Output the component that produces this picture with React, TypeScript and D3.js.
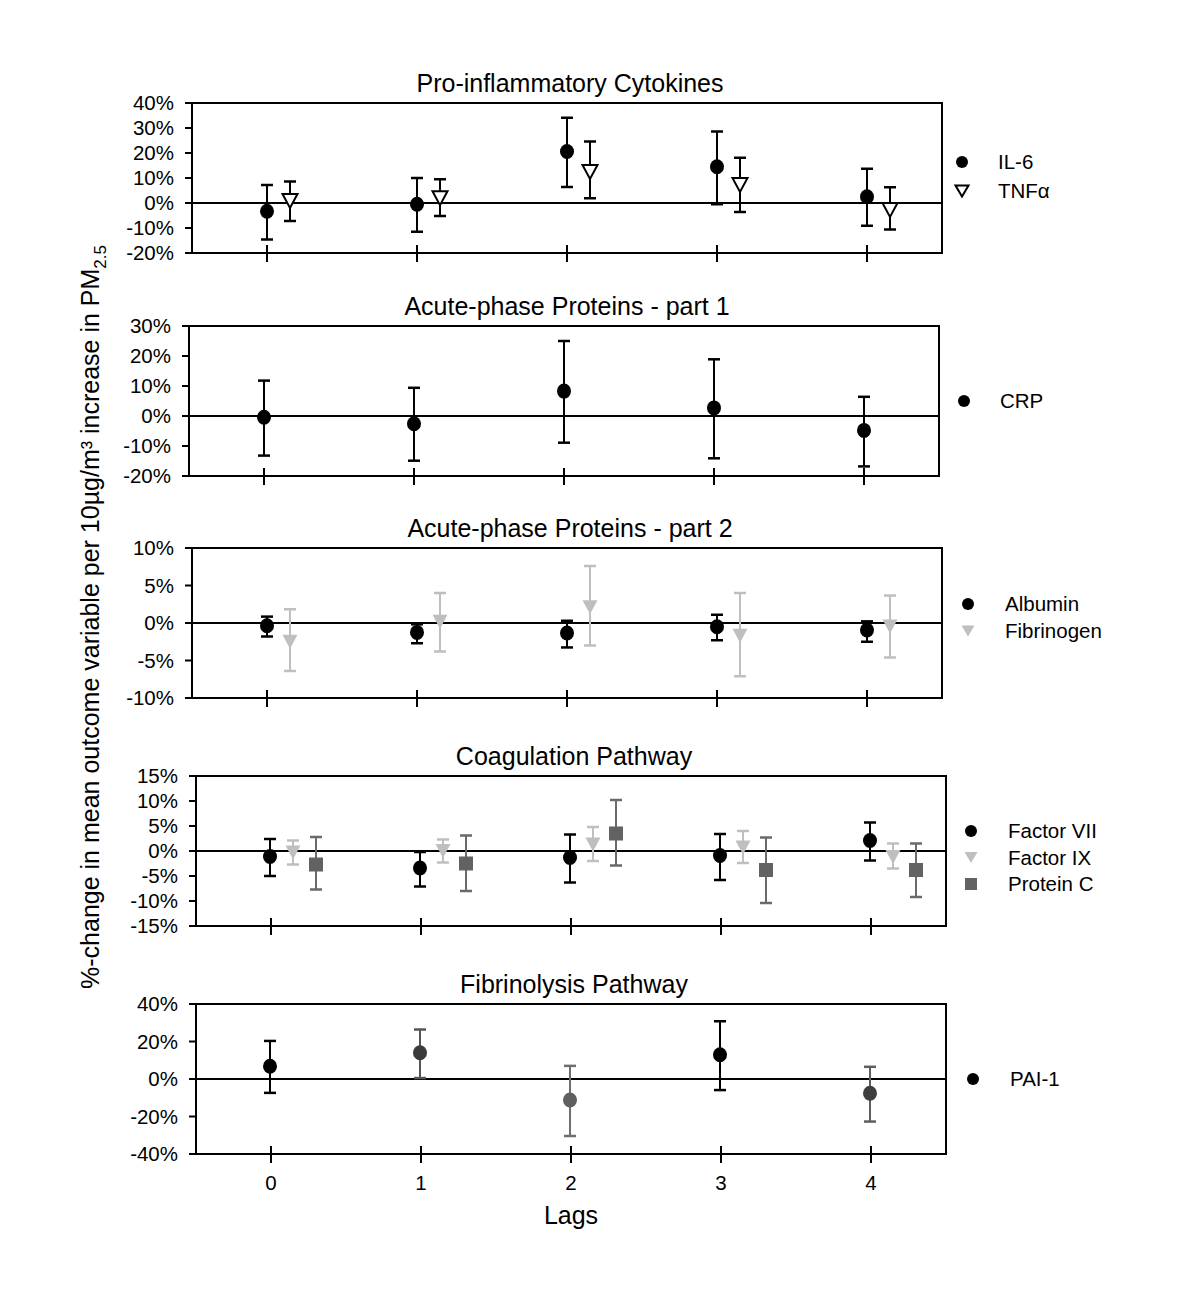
import React from "react";
import * as d3 from "d3";

// ---------- DATA ----------
const lags = [0, 1, 2, 3, 4];
const lagLabels = ["0", "1", "2", "3", "4"];

const panelTitles = [
  "Pro-inflammatory Cytokines",
  "Acute-phase Proteins - part 1",
  "Acute-phase Proteins - part 2",
  "Coagulation Pathway",
  "Fibrinolysis Pathway",
];

const yTicks1 = [-20, -10, 0, 10, 20, 30, 40];
const yTicks2 = [-20, -10, 0, 10, 20, 30];
const yTicks3 = [-10, -5, 0, 5, 10];
const yTicks4 = [-15, -10, -5, 0, 5, 10, 15];
const yTicks5 = [-40, -20, 0, 20, 40];

// Pro-inflammatory cytokines
const il6Est = [-3.3, -0.5, 20.6, 14.5, 2.5];
const il6Lo = [-14.6, -11.5, 6.4, -0.5, -9.1];
const il6Hi = [7.2, 10.0, 34.1, 28.6, 13.7];
const tnfEst = [0.8, 1.9, 12.4, 7.2, -2.8];
const tnfLo = [-7.2, -5.2, 1.9, -3.6, -10.6];
const tnfHi = [8.6, 9.5, 24.6, 18.1, 6.3];

// Acute-phase part 1
const crpEst = [-0.4, -2.6, 8.3, 2.7, -4.8];
const crpLo = [-13.2, -14.9, -8.9, -14.1, -16.8];
const crpHi = [11.8, 9.4, 25.0, 18.9, 6.4];

// Acute-phase part 2
const albEst = [-0.36, -1.25, -1.34, -0.5, -0.94];
const albLo = [-1.8, -2.7, -3.26, -2.3, -2.5];
const albHi = [0.85, -0.18, 0.3, 1.1, 0.22];
const fibEst = [-2.5, 0.18, 2.1, -1.7, -0.45];
const fibLo = [-6.4, -3.8, -3.0, -7.1, -4.6];
const fibHi = [1.83, 4.0, 7.6, 4.0, 3.66];

// Coagulation
const f7Est = [-1.1, -3.4, -1.3, -0.9, 2.1];
const f7Lo = [-5.0, -7.1, -6.3, -5.8, -1.9];
const f7Hi = [2.4, -0.2, 3.3, 3.4, 5.7];
const f9Est = [-0.3, 0.0, 1.3, 0.7, -1.2];
const f9Lo = [-2.7, -2.3, -2.0, -2.4, -3.5];
const f9Hi = [2.1, 2.3, 4.8, 4.0, 1.5];
const pcEst = [-2.7, -2.5, 3.5, -3.8, -3.8];
const pcLo = [-7.7, -8.0, -2.9, -10.4, -9.2];
const pcHi = [2.8, 3.1, 10.2, 2.7, 1.5];

// Fibrinolysis
const paiEst = [6.8, 14.0, -11.2, 12.9, -7.6];
const paiLo = [-7.4, 0.5, -30.4, -5.9, -22.7];
const paiHi = [20.3, 26.4, 7.0, 30.8, 6.5];

// ---------- STYLE ----------
const FONT = "'Liberation Sans', Arial, Helvetica, sans-serif";
const BLACK = "#000000";
const LIGHT = "#bfbfbf";
const DARK = "#626262";
const paiPointColors = ["#000000", "#3a3a3a", "#606060", "#000000", "#3f3f3f"];
const paiBarColors = ["#000000", "#555555", "#6e6e6e", "#000000", "#5e5e5e"];

type Shape = "circle" | "triOpen" | "triFill" | "square";
type Series = {
  name: string;
  est: number[];
  lo: number[];
  hi: number[];
  shape: Shape;
  offset: number;
  pointColors: string[];
  barColors: string[];
};
type Panel = {
  title: string;
  x0: number;
  top: number;
  domain: [number, number];
  ticks: number[];
  series: Series[];
  legendX: number;
  legendTextX: number;
  legendY: number;
  legendGap: number;
  showX?: boolean;
};

const same = (c: string) => lags.map(() => c);

const panels: Panel[] = [
  {
    title: panelTitles[0], x0: 192, top: 103, domain: [-20, 40], ticks: yTicks1,
    series: [
      { name: "IL-6", est: il6Est, lo: il6Lo, hi: il6Hi, shape: "circle", offset: 0, pointColors: same(BLACK), barColors: same(BLACK) },
      { name: "TNFα", est: tnfEst, lo: tnfLo, hi: tnfHi, shape: "triOpen", offset: 23, pointColors: same(BLACK), barColors: same(BLACK) },
    ],
    legendX: 962, legendTextX: 998, legendY: 162, legendGap: 29,
  },
  {
    title: panelTitles[1], x0: 189, top: 326, domain: [-20, 30], ticks: yTicks2,
    series: [
      { name: "CRP", est: crpEst, lo: crpLo, hi: crpHi, shape: "circle", offset: 0, pointColors: same(BLACK), barColors: same(BLACK) },
    ],
    legendX: 964, legendTextX: 1000, legendY: 401, legendGap: 27,
  },
  {
    title: panelTitles[2], x0: 192, top: 548, domain: [-10, 10], ticks: yTicks3,
    series: [
      { name: "Albumin", est: albEst, lo: albLo, hi: albHi, shape: "circle", offset: 0, pointColors: same(BLACK), barColors: same(BLACK) },
      { name: "Fibrinogen", est: fibEst, lo: fibLo, hi: fibHi, shape: "triFill", offset: 23, pointColors: same(LIGHT), barColors: same(LIGHT) },
    ],
    legendX: 968, legendTextX: 1005, legendY: 604, legendGap: 27,
  },
  {
    title: panelTitles[3], x0: 196, top: 776, domain: [-15, 15], ticks: yTicks4,
    series: [
      { name: "Factor VII", est: f7Est, lo: f7Lo, hi: f7Hi, shape: "circle", offset: -1, pointColors: same(BLACK), barColors: same(BLACK) },
      { name: "Factor IX", est: f9Est, lo: f9Lo, hi: f9Hi, shape: "triFill", offset: 22, pointColors: same(LIGHT), barColors: same(LIGHT) },
      { name: "Protein C", est: pcEst, lo: pcLo, hi: pcHi, shape: "square", offset: 45, pointColors: same(DARK), barColors: same("#6a6a6a") },
    ],
    legendX: 971, legendTextX: 1008, legendY: 831, legendGap: 26.5,
  },
  {
    title: panelTitles[4], x0: 196, top: 1004, domain: [-40, 40], ticks: yTicks5,
    series: [
      { name: "PAI-1", est: paiEst, lo: paiLo, hi: paiHi, shape: "circle", offset: -1, pointColors: paiPointColors, barColors: paiBarColors },
    ],
    legendX: 973, legendTextX: 1010, legendY: 1079, legendGap: 27,
    showX: true,
  },
];

const PW = 750;
const PH = 150;

function Marker({ shape, x, y, color, legend }: { shape: Shape; x: number; y: number; color: string; legend?: boolean }) {
  if (shape === "circle") {
    return <ellipse cx={x} cy={y} rx={legend ? 6 : 7} ry={legend ? 6 : 7.5} fill={color} />;
  }
  if (shape === "square") {
    const s = legend ? 12 : 14;
    return <rect x={x - s / 2} y={y - s / 2} width={s} height={s} fill={color} />;
  }
  const w = legend ? 6.5 : 7.5;
  const h = legend ? 11 : 14;
  const p = `M${x - w},${y - h / 2}L${x + w},${y - h / 2}L${x},${y + h / 2}Z`;
  if (shape === "triOpen") {
    return <path d={p} fill="#ffffff" stroke={BLACK} strokeWidth={2} strokeLinejoin="miter" />;
  }
  return <path d={p} fill={color} />;
}

function PanelView({ p }: { p: Panel }) {
  const x = d3.scaleLinear().domain([-0.5, 4.5]).range([p.x0, p.x0 + PW]);
  const y = d3.scaleLinear().domain(p.domain).range([p.top + PH, p.top]);
  const bottom = p.top + PH;
  const cap = 6;
  return (
    <g>
      <text x={p.x0 + PW / 2 + 3} y={p.top - 11} textAnchor="middle" fontFamily={FONT} fontSize={25} fill="#000">
        {p.title}
      </text>
      {p.ticks.map((t) => (
        <g key={t}>
          <line x1={p.x0 - 7} x2={p.x0} y1={y(t)} y2={y(t)} stroke="#000" strokeWidth={2} />
          <text x={p.x0 - 18} y={y(t)} dy="0.36em" textAnchor="end" fontFamily={FONT} fontSize={20.5} fill="#000">
            {`${t}%`}
          </text>
        </g>
      ))}
      <rect x={p.x0} y={p.top} width={PW} height={PH} fill="none" stroke="#000" strokeWidth={2} />
      <line x1={p.x0} x2={p.x0 + PW} y1={y(0)} y2={y(0)} stroke="#000" strokeWidth={2} />
      {lags.map((l) => (
        <line key={l} x1={x(l)} x2={x(l)} y1={bottom - 8} y2={bottom + 9} stroke="#000" strokeWidth={2} />
      ))}
      {p.showX &&
        lags.map((l, i) => (
          <text key={"xl" + l} x={x(l)} y={bottom + 36} textAnchor="middle" fontFamily={FONT} fontSize={20.5} fill="#000">
            {lagLabels[i]}
          </text>
        ))}
      {p.series.map((s) =>
        lags.map((l, i) => {
          const cx = x(l) + s.offset;
          const c = s.barColors[i];
          return (
            <g key={s.name + l}>
              <line x1={cx} x2={cx} y1={y(s.lo[i])} y2={y(s.hi[i])} stroke={c} strokeWidth={2} />
              <line x1={cx - cap} x2={cx + cap} y1={y(s.lo[i])} y2={y(s.lo[i])} stroke={c} strokeWidth={2.5} />
              <line x1={cx - cap} x2={cx + cap} y1={y(s.hi[i])} y2={y(s.hi[i])} stroke={c} strokeWidth={2.5} />
            </g>
          );
        })
      )}
      {p.series.map((s) =>
        lags.map((l, i) => (
          <Marker key={"m" + s.name + l} shape={s.shape} x={x(l) + s.offset} y={y(s.est[i])} color={s.pointColors[i]} />
        ))
      )}
      {p.series.map((s, k) => (
        <g key={"lg" + s.name}>
          <Marker shape={s.shape} x={p.legendX} y={p.legendY + k * p.legendGap} color={s.pointColors[0]} legend />
          <text x={p.legendTextX} y={p.legendY + k * p.legendGap} dy="0.36em" fontFamily={FONT} fontSize={20.5} fill="#000">
            {s.name}
          </text>
        </g>
      ))}
    </g>
  );
}

export default function App() {
  return (
    <svg
      width={1200}
      height={1293}
      style={{ display: "block", position: "absolute", left: 0, top: 0, background: "#fff" }}
    >
      <rect x={0} y={0} width={1200} height={1293} fill="#fff" />
      {panels.map((p, i) => (
        <PanelView key={i} p={p} />
      ))}
      <text x={571} y={1224} textAnchor="middle" fontFamily={FONT} fontSize={25} fill="#000">
        Lags
      </text>
      <text
        transform="translate(99,617) rotate(-90)"
        textAnchor="middle"
        fontFamily={FONT}
        fontSize={25}
        fill="#000"
      >
        %-change in mean outcome variable per 10µg/m³ increase in PM
        <tspan fontSize={17} dy={7}>2.5</tspan>
      </text>
    </svg>
  );
}
